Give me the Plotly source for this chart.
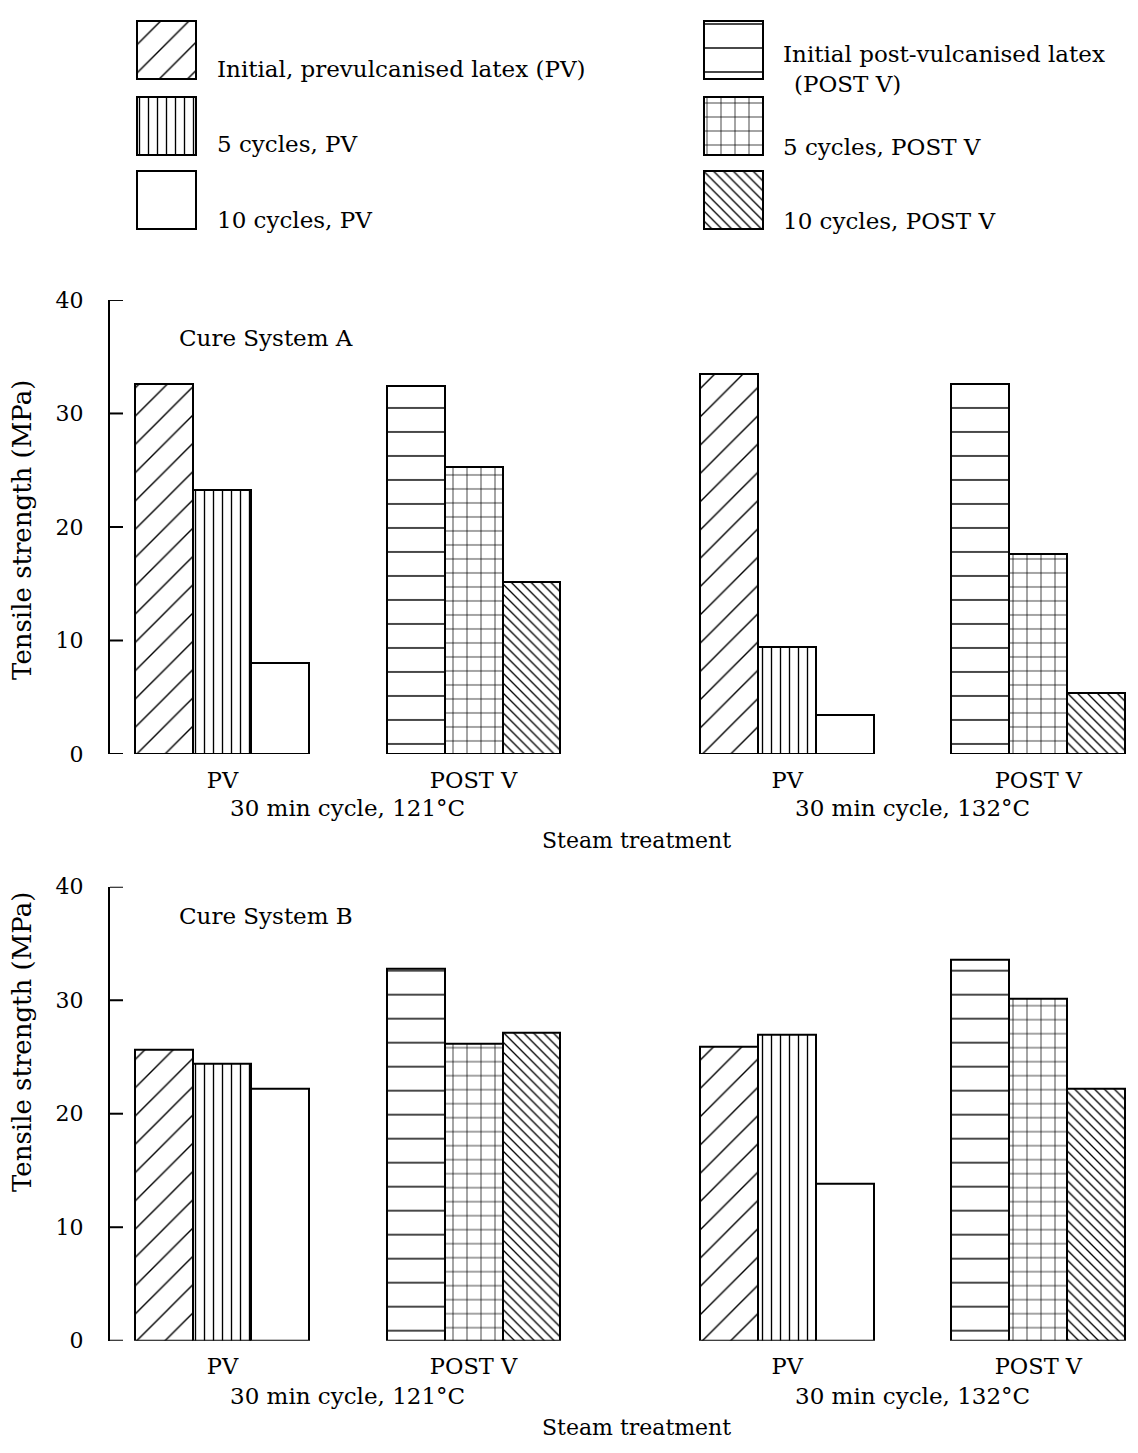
import plotly.graph_objects as go

W, H = 1138, 1453
FONT = "DejaVu Serif"

# ---------------- data ----------------
group_labels = ["PV", "POST V", "PV", "POST V"]
temp_labels = ["30 min cycle, 121°C", "30 min cycle, 132°C"]
series_names = [
    "Initial, prevulcanised latex (PV)",
    "5 cycles, PV",
    "10 cycles, PV",
    "Initial post-vulcanised latex (POST V)",
    "5 cycles, POST V",
    "10 cycles, POST V",
]
y_ticks = [0, 10, 20, 30, 40]

# Cure System A, tensile strength (MPa) at [121°C, 132°C]
a_pv_initial = [32.6, 33.5]
a_pv_5 = [23.3, 9.4]
a_pv_10 = [8.0, 3.4]
a_post_initial = [32.4, 32.6]
a_post_5 = [25.3, 17.6]
a_post_10 = [15.2, 5.4]

# Cure System B, tensile strength (MPa) at [121°C, 132°C]
b_pv_initial = [25.6, 25.9]
b_pv_5 = [24.4, 27.0]
b_pv_10 = [22.2, 13.8]
b_post_initial = [32.8, 33.6]
b_post_5 = [26.2, 30.1]
b_post_10 = [27.1, 22.2]

# ---------------- styles ----------------
patterns = [
    dict(shape="/", size=20, solidity=0.07),
    dict(shape="|", size=9, solidity=0.15),
    dict(shape="", size=8, solidity=0.1),
    dict(shape="-", size=24, solidity=0.06),
    dict(shape="+", size=14, solidity=0.1),
    dict(shape="\\", size=7, solidity=0.19),
]

# group centre positions on a numeric axis (extra gap between temperatures)
temp_gap = 0.25
pv_x = [0 + 2 * t + t * temp_gap for t in range(2)]
post_x = [1 + 2 * t + t * temp_gap for t in range(2)]
bar_w = 0.231
group_w = 3 * bar_w


def px(x):
    return x / W


def py(y):
    return 1 - y / H


def pat(i):
    p = patterns[i]
    return dict(shape=p["shape"], size=p["size"], solidity=p["solidity"],
                fgcolor="black", bgcolor="white", fillmode="replace")


def font(size):
    return dict(family=FONT, size=size, color="black")


fig = go.Figure()

panels = [
    ("x", "y", [a_pv_initial, a_pv_5, a_pv_10, a_post_initial, a_post_5, a_post_10]),
    ("x2", "y2", [b_pv_initial, b_pv_5, b_pv_10, b_post_initial, b_post_5, b_post_10]),
]
for xa, ya, vals in panels:
    for i, v in enumerate(vals):
        k = i % 3
        xs = pv_x if i < 3 else post_x
        fig.add_trace(go.Bar(
            x=xs, y=v, width=bar_w, offset=-group_w / 2 + k * bar_w,
            marker=dict(color="white", line=dict(color="black", width=2), pattern=pat(i)),
            name=series_names[i], showlegend=False, xaxis=xa, yaxis=ya,
        ))

# ---------------- legend keys (helper axis in pixel units) ----------------
key_w = 59
col_x = [166, 733.5]
row_top = [9, 86, 162]
key_h = 59
for i in range(6):
    col, row = divmod(i, 3)
    fig.add_trace(go.Bar(
        x=[col_x[col]], y=[key_h], base=[row_top[row]], width=key_w,
        marker=dict(color="white", line=dict(color="black", width=2), pattern=pat(i)),
        showlegend=False, xaxis="x3", yaxis="y3", hoverinfo="skip",
    ))

legend_text = [
    (215, 58, series_names[0]),
    (215, 134, series_names[1]),
    (215, 212, series_names[2]),
    (781, 43, "Initial post-vulcanised latex"),
    (792, 73, "(POST V)"),
    (781, 137, series_names[4]),
    (781, 213, series_names[5]),
]

annotations = []
for x, y, t in legend_text:
    annotations.append(dict(x=x, y=y, xref="x3", yref="y3", text=t, showarrow=False,
                            xanchor="left", yanchor="middle", font=font(23)))

shapes = []

# ---------------- axes ----------------
x_left_px = 110
x0 = -0.448
x1 = 3.647
tick_frac = 13 / (W - x_left_px)

for n, (zero_px, top_px, temp_y, steam_y, title_y, cure_y, cure_txt) in enumerate([
    (755, 293, 810, 843, 527, 332, "Cure System A"),
    (1352, 890, 1408, 1440, 1048, 920, "Cure System B"),
]):
    sfx = "" if n == 0 else "2"
    fig.layout["xaxis" + sfx] = dict(
        domain=[px(x_left_px), 1], range=[x0, x1], anchor="y" + sfx,
        showgrid=False, zeroline=False, showline=False, ticks="",
        tickmode="array", tickvals=[pv_x[0], post_x[0], pv_x[1], post_x[1]],
        ticktext=group_labels, tickfont=font(22.5), ticklabelstandoff=10,
    )
    fig.layout["yaxis" + sfx] = dict(
        domain=[py(zero_px), py(top_px)], range=[0, 40], anchor="x" + sfx,
        showgrid=False, zeroline=False, showline=True, linecolor="black", linewidth=2,
        ticks="", tickmode="array", tickvals=y_ticks,
        tickfont=font(22), ticklabelstandoff=20,
    )
    # inward tick marks on the y axis
    for tv in y_ticks:
        shapes.append(dict(type="line", xref="x" + sfx + " domain", yref="y" + sfx,
                           x0=0, x1=tick_frac, y0=tv, y1=tv,
                           line=dict(color="black", width=2), layer="above"))
    xref = "x" + sfx
    for t in range(2):
        annotations.append(dict(x=(pv_x[t] + post_x[t]) / 2, y=py(temp_y), xref=xref, yref="paper",
                                text=temp_labels[t], showarrow=False, yanchor="middle",
                                font=font(23)))
    annotations.append(dict(x=px(636), y=py(steam_y), xref="paper", yref="paper",
                            text="Steam treatment", showarrow=False, yanchor="middle",
                            font=font(22)))
    annotations.append(dict(x=px(22), y=py(title_y), xref="paper", yref="paper",
                            text="Tensile strength (MPa)", textangle=-90, showarrow=False,
                            xanchor="center", yanchor="middle", font=font(26)))
    annotations.append(dict(x=px(177), y=py(cure_y), xref="paper", yref="paper",
                            text=cure_txt, showarrow=False, xanchor="left", yanchor="middle",
                            font=font(23)))

fig.update_layout(
    xaxis3=dict(domain=[0, 1], range=[0, W], visible=False, anchor="y3"),
    yaxis3=dict(domain=[py(238), 1], range=[238, 0], visible=False, anchor="x3"),
    width=W, height=H, margin=dict(l=0, r=0, t=0, b=0),
    paper_bgcolor="white", plot_bgcolor="white",
    barmode="overlay", bargap=0, showlegend=False,
    annotations=annotations, shapes=shapes,
)

# pin the figure to the page's top-left corner so it fills the window exactly
post = (
    "document.documentElement.style.margin='0';"
    "document.body.style.margin='0';"
    "document.documentElement.style.overflow='hidden';"
    "document.body.style.overflow='hidden';"
    "var d=document.getElementById('{plot_id}');"
    "d.style.position='absolute';d.style.left='0px';d.style.top='0px';"
)
fig.write_html("out.html", config={"displayModeBar": False}, post_script=post)
